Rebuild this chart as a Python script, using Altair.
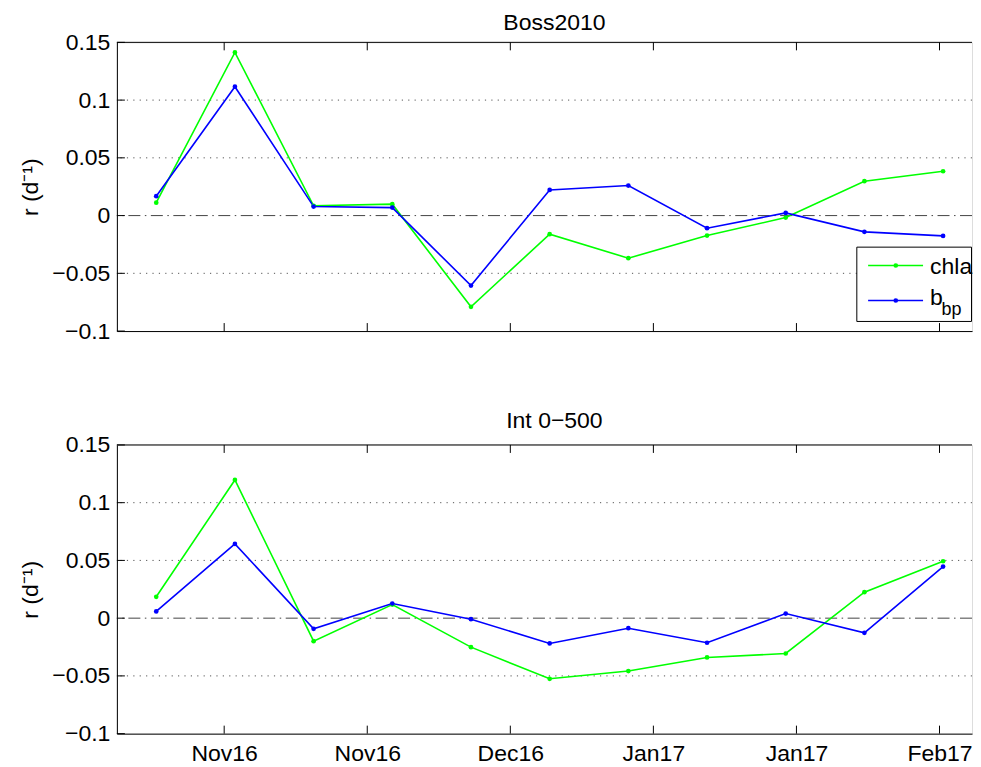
import altair as alt
import pandas as pd

# ---------------- data ----------------
dates = [
    "2016-10-27T12:00:00", "2016-11-07T12:00:00", "2016-11-18T12:00:00",
    "2016-11-29T12:00:00", "2016-12-10T12:00:00", "2016-12-21T12:00:00",
    "2017-01-01T12:00:00", "2017-01-12T12:00:00", "2017-01-23T12:00:00",
    "2017-02-03T12:00:00", "2017-02-14T12:00:00",
]
chla_boss = [0.0112, 0.1413, 0.0085, 0.0099, -0.0790, -0.0161, -0.0369,
             -0.0173, -0.0017, 0.0298, 0.0384]
bbp_boss = [0.0168, 0.1116, 0.0078, 0.0069, -0.0606, 0.0222, 0.0260,
            -0.0109, 0.0023, -0.0141, -0.0176]
chla_int = [0.0185, 0.1197, -0.0199, 0.0118, -0.0251, -0.0525, -0.0458,
            -0.0340, -0.0306, 0.0225, 0.0493]
bbp_int = [0.0058, 0.0643, -0.0092, 0.0127, -0.0009, -0.0219, -0.0087,
           -0.0213, 0.0040, -0.0127, 0.0447]

series_names = ["chla", "bbp"]
series_colors = ["#00ff00", "#0000ff"]
panel_titles = ["Boss2010", "Int 0\u2212500"]
y_title = "r (d\u207b\u00b9)"
x_tick_dates = [(2016, 11, 6), (2016, 11, 26), (2016, 12, 16),
                (2017, 1, 5), (2017, 1, 25), (2017, 2, 14)]
y_ticks = [-0.1, -0.05, 0, 0.05, 0.1, 0.15]
grid_values = [-0.05, 0.05, 0.1]
zero_value = [0.0]

# ---------------- layout ----------------
W = 856
H = 289
FONT = "Liberation Sans"
FS = 23
TICK = 8

x_domain = [alt.DateTime(year=2016, month=10, date=22),
            alt.DateTime(year=2017, month=2, date=18, hours=13)]
tick_dt = [alt.DateTime(year=y, month=m, date=d) for (y, m, d) in x_tick_dates]
tick_strings = ["%04d-%02d-%02dT00:00:00" % t for t in x_tick_dates]

x_scale = alt.Scale(domain=x_domain)
y_scale = alt.Scale(domain=[-0.1, 0.15], nice=False, zero=False)


def panel(chla, bbp, title, show_labels, with_legend, title_offset):
    n = len(dates)
    df = pd.DataFrame({
        "date": dates * 2,
        "r": chla + bbp,
        "series": [series_names[0]] * n + [series_names[1]] * n,
    })
    grid_df = pd.DataFrame({"r": grid_values})
    zero_df = pd.DataFrame({"r": zero_value})
    xt_df = pd.DataFrame({"date": tick_strings})
    yt_df = pd.DataFrame({"r": y_ticks})
    top_df = pd.DataFrame({"r": [max(y_ticks)]})

    x_axis = alt.Axis(values=tick_dt, format="%b%y", labels=show_labels,
                      ticks=False, grid=False, labelFontSize=FS, labelFont=FONT,
                      labelColor="black", labelPadding=9, labelFlush=False,
                      labelOverlap=False, domainColor="black", domainWidth=1,
                      title=None)
    y_axis = alt.Axis(values=y_ticks, labelExpr="format(datum.value, '.2~f')",
                      ticks=False, grid=False,
                      labelFontSize=FS, labelFont=FONT, labelColor="black",
                      labelPadding=7, labelFlush=False, labelOverlap=False,
                      domainColor="black", domainWidth=1,
                      title=y_title, titleFont=FONT, titleFontSize=FS,
                      titleFontWeight="normal", titleColor="black",
                      titleX=-79, titleY=H / 2, titleAngle=-90,
                      titleBaseline="alphabetic", titleAlign="center")

    X = lambda: alt.X("date:T", scale=x_scale, axis=x_axis)
    Y = lambda: alt.Y("r:Q", scale=y_scale, axis=y_axis)

    grid = alt.Chart(grid_df).mark_rule(
        color="#555555", strokeWidth=1, strokeDash=[1.2, 5.2]
    ).encode(y=Y())

    zero = alt.Chart(zero_df).mark_rule(
        color="#444444", strokeWidth=1, strokeDash=[12, 4.5, 1.5, 4.5]
    ).encode(y=Y())

    xt_bottom = alt.Chart(xt_df).mark_rule(color="black", strokeWidth=1).encode(
        x=X(), y=alt.value(H), y2=alt.value(H - TICK))
    xt_top = alt.Chart(xt_df).mark_rule(color="black", strokeWidth=1).encode(
        x=X(), y=alt.value(0), y2=alt.value(TICK))
    yt_left = alt.Chart(yt_df).mark_rule(color="black", strokeWidth=1).encode(
        y=Y(), x=alt.value(0), x2=alt.value(TICK))
    top_border = alt.Chart(top_df).mark_rule(color="black", strokeWidth=1).encode(
        y=Y(), x=alt.value(0), x2=alt.value(W))

    color = alt.Color("series:N",
                      scale=alt.Scale(domain=series_names, range=series_colors),
                      legend=None)
    lines = alt.Chart(df).mark_line(
        strokeWidth=1.6,
        point=alt.OverlayMarkDef(filled=True, size=22)
    ).encode(
        x=X(),
        y=Y(),
        color=color,
        detail="series:N",
    )

    layers = [grid, zero, lines, xt_bottom, xt_top, yt_left, top_border]

    if with_legend:
        lx0, ly0, ly1 = 740.7, 205.0, 279.4
        rows_y = [223.4, 258.4]
        box = alt.Chart(pd.DataFrame({"a": [0]})).mark_rect(
            fill="white", stroke="black", strokeWidth=1
        ).encode(x=alt.value(lx0), x2=alt.value(W - 0.5),
                 y=alt.value(ly0), y2=alt.value(ly1))
        layers.append(box)
        for i, name in enumerate(series_names):
            one = pd.DataFrame({"series": [name]})
            layers.append(alt.Chart(one).mark_rule(
                color=series_colors[i], strokeWidth=1.6
            ).encode(x=alt.value(752), x2=alt.value(807),
                     y=alt.value(rows_y[i])))
            layers.append(alt.Chart(one).mark_point(
                filled=True, size=22, color=series_colors[i], opacity=1
            ).encode(x=alt.value(779.7), y=alt.value(rows_y[i])))
        layers.append(alt.Chart(pd.DataFrame({"t": ["chla"]})).mark_text(
            font=FONT, fontSize=FS, color="black", align="left",
            baseline="alphabetic"
        ).encode(text="t:N", x=alt.value(814), y=alt.value(231.7)))
        layers.append(alt.Chart(pd.DataFrame({"t": ["b"]})).mark_text(
            font=FONT, fontSize=FS, color="black", align="left",
            baseline="alphabetic"
        ).encode(text="t:N", x=alt.value(814), y=alt.value(263.4)))
        layers.append(alt.Chart(pd.DataFrame({"t": ["bp"]})).mark_text(
            font=FONT, fontSize=18, color="black", align="left",
            baseline="alphabetic"
        ).encode(text="t:N", x=alt.value(825.5), y=alt.value(273.4)))

    return alt.layer(*layers).properties(
        width=W, height=H,
        title=alt.TitleParams(text=title, font=FONT, fontSize=FS,
                              fontWeight="normal", color="black",
                              anchor="middle", baseline="alphabetic",
                              offset=title_offset, dx=10),
    )


top = panel(chla_boss, bbp_boss, panel_titles[0], False, True, -21.7)
bottom = panel(chla_int, bbp_int, panel_titles[1], True, False, -17.2)

chart = alt.vconcat(top, bottom, spacing=65).properties(
    padding={"left": 11, "top": 3, "right": 0, "bottom": 0},
    background="white",
).configure_view(stroke=None).configure(font=FONT)

chart.save("out.html", embed_options={"renderer": "svg", "actions": False})
